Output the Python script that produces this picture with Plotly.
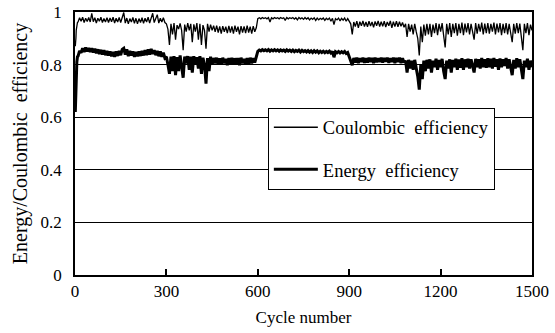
import plotly.graph_objects as go

cycles = [1, 2, 3, 4, 6, 8] + list(range(10, 1501, 5))

coulombic_eff = [
    0.87, 0.88, 0.90, 0.93, 0.95, 0.96,
    0.962, 0.978, 0.965, 0.98, 0.96, 0.976, 0.964, 0.979, 0.962, 0.995,
    0.963, 0.978, 0.958, 0.976, 0.965, 0.98, 0.96, 0.975, 0.962, 0.978,
    0.96, 0.977, 0.963, 0.98, 0.958, 0.976, 0.962, 0.979, 0.96, 0.976,
    0.998, 0.958, 0.977, 0.955, 0.975, 0.962, 0.979, 0.957, 0.976, 0.955,
    0.975, 0.96, 0.978, 0.957, 0.976, 0.962, 0.98, 0.958, 0.977, 0.995,
    0.96, 0.978, 0.99, 0.958, 0.976, 0.962, 0.978, 0.96, 0.955, 0.935,
    0.875, 0.955, 0.915, 0.958, 0.895, 0.95, 0.935, 0.957, 0.93, 0.855,
    0.952, 0.925, 0.958, 0.93, 0.955, 0.885, 0.953, 0.925, 0.958, 0.895,
    0.955, 0.875, 0.95, 0.93, 0.86, 0.955, 0.925, 0.952, 0.93, 0.948,
    0.925, 0.948, 0.922, 0.945, 0.918, 0.946, 0.925, 0.944, 0.92, 0.947,
    0.922, 0.945, 0.918, 0.948, 0.925, 0.944, 0.915, 0.946, 0.922, 0.945,
    0.92, 0.948, 0.922, 0.944, 0.918, 0.946, 0.925, 0.94, 0.975, 0.978,
    0.974, 0.979, 0.975, 0.978, 0.974, 0.979, 0.962, 0.978, 0.974, 0.979,
    0.975, 0.978, 0.974, 0.979, 0.975, 0.978, 0.968, 0.979, 0.974, 0.978,
    0.975, 0.979, 0.973, 0.978, 0.97, 0.979, 0.974, 0.978, 0.972, 0.979,
    0.973, 0.978, 0.97, 0.977, 0.972, 0.978, 0.968, 0.977, 0.97, 0.976,
    0.972, 0.977, 0.968, 0.976, 0.971, 0.977, 0.965, 0.976, 0.952, 0.975,
    0.97, 0.977, 0.966, 0.976, 0.969, 0.977, 0.965, 0.975, 0.962, 0.955,
    0.915, 0.962, 0.945, 0.965, 0.94, 0.963, 0.948, 0.966, 0.945, 0.962,
    0.944, 0.965, 0.947, 0.962, 0.942, 0.964, 0.948, 0.966, 0.945, 0.963,
    0.946, 0.965, 0.943, 0.962, 0.948, 0.966, 0.94, 0.963, 0.945, 0.965,
    0.944, 0.963, 0.946, 0.96, 0.942, 0.955, 0.905, 0.955, 0.925, 0.952,
    0.915, 0.955, 0.925, 0.90, 0.835, 0.945, 0.885, 0.952, 0.91, 0.955,
    0.915, 0.955, 0.905, 0.952, 0.92, 0.958, 0.912, 0.955, 0.925, 0.958,
    0.91, 0.865, 0.955, 0.915, 0.958, 0.905, 0.955, 0.92, 0.958, 0.91,
    0.955, 0.92, 0.96, 0.912, 0.956, 0.922, 0.958, 0.915, 0.955, 0.925,
    0.895, 0.958, 0.918, 0.955, 0.925, 0.96, 0.915, 0.956, 0.92, 0.958,
    0.918, 0.955, 0.925, 0.96, 0.915, 0.956, 0.922, 0.958, 0.912, 0.955,
    0.92, 0.958, 0.915, 0.955, 0.925, 0.885, 0.955, 0.918, 0.958, 0.92,
    0.956, 0.915, 0.855, 0.955, 0.92, 0.958, 0.912, 0.952, 0.93,
]

energy_eff = [
    0.62, 0.68, 0.74, 0.78, 0.81, 0.83,
    0.832, 0.852, 0.845, 0.862, 0.848, 0.865, 0.85, 0.863, 0.848, 0.862,
    0.846, 0.86, 0.843, 0.858, 0.84, 0.856, 0.838, 0.855, 0.836, 0.852,
    0.835, 0.85, 0.832, 0.848, 0.83, 0.85, 0.833, 0.852, 0.836, 0.858,
    0.862, 0.838, 0.858, 0.832, 0.852, 0.835, 0.85, 0.83, 0.848, 0.832,
    0.85, 0.833, 0.852, 0.835, 0.855, 0.836, 0.858, 0.838, 0.86, 0.84,
    0.855, 0.836, 0.852, 0.832, 0.85, 0.83, 0.845, 0.825, 0.83, 0.80,
    0.765, 0.83, 0.775, 0.832, 0.76, 0.828, 0.775, 0.835, 0.80, 0.75,
    0.83, 0.805, 0.832, 0.78, 0.83, 0.77, 0.832, 0.80, 0.828, 0.785,
    0.832, 0.765, 0.826, 0.80, 0.728, 0.825, 0.775, 0.83, 0.80, 0.825,
    0.805, 0.826, 0.802, 0.824, 0.80, 0.826, 0.805, 0.822, 0.798, 0.825,
    0.803, 0.826, 0.80, 0.824, 0.804, 0.825, 0.798, 0.826, 0.805, 0.822,
    0.80, 0.825, 0.803, 0.826, 0.805, 0.824, 0.808, 0.83, 0.85, 0.855,
    0.852, 0.857, 0.853, 0.856, 0.852, 0.857, 0.851, 0.856, 0.852, 0.857,
    0.852, 0.856, 0.851, 0.856, 0.852, 0.855, 0.85, 0.856, 0.851, 0.855,
    0.85, 0.855, 0.849, 0.854, 0.85, 0.855, 0.848, 0.854, 0.849, 0.853,
    0.848, 0.853, 0.847, 0.852, 0.846, 0.853, 0.847, 0.852, 0.845, 0.851,
    0.846, 0.851, 0.845, 0.85, 0.846, 0.851, 0.844, 0.85, 0.828, 0.849,
    0.845, 0.85, 0.844, 0.849, 0.845, 0.85, 0.842, 0.846, 0.83, 0.815,
    0.798, 0.825, 0.808, 0.826, 0.806, 0.824, 0.81, 0.826, 0.807, 0.824,
    0.808, 0.826, 0.81, 0.825, 0.806, 0.826, 0.809, 0.824, 0.81, 0.826,
    0.808, 0.825, 0.811, 0.826, 0.807, 0.824, 0.81, 0.826, 0.806, 0.825,
    0.81, 0.826, 0.806, 0.824, 0.808, 0.815, 0.77, 0.818, 0.785, 0.815,
    0.78, 0.818, 0.79, 0.755, 0.705, 0.80, 0.745, 0.815, 0.775, 0.818,
    0.785, 0.82, 0.77, 0.815, 0.79, 0.822, 0.78, 0.818, 0.79, 0.822,
    0.775, 0.745, 0.815, 0.785, 0.82, 0.77, 0.818, 0.79, 0.822, 0.78,
    0.82, 0.788, 0.824, 0.78, 0.82, 0.79, 0.822, 0.785, 0.82, 0.79,
    0.77, 0.822, 0.79, 0.82, 0.785, 0.825, 0.79, 0.82, 0.788, 0.824,
    0.79, 0.822, 0.785, 0.825, 0.792, 0.82, 0.78, 0.823, 0.79, 0.82,
    0.795, 0.825, 0.785, 0.82, 0.79, 0.76, 0.818, 0.785, 0.824, 0.79,
    0.82, 0.785, 0.745, 0.815, 0.79, 0.822, 0.78, 0.815, 0.79,
]

x_ticks = [0, 300, 600, 900, 1200, 1500]
y_ticks = [0, 0.2, 0.4, 0.6, 0.8, 1]
y_ticktext = ["0", "0.2", "0.4", "0.6", "0.8", "1"]

FONT = "Liberation Serif, serif"

fig = go.Figure()
fig.add_trace(go.Scatter(
    x=cycles, y=coulombic_eff, mode="lines",
    name="Coulombic\u00a0\u00a0efficiency", legendgroup="ce",
    line=dict(color="black", width=1.3),
))
fig.add_trace(go.Scatter(
    x=cycles, y=energy_eff, mode="lines",
    name="Energy\u00a0\u00a0efficiency", legendgroup="ee",
    line=dict(color="black", width=3),
))

fig.update_layout(
    width=555, height=333,
    margin=dict(l=75, r=23, t=12, b=58),
    paper_bgcolor="white", plot_bgcolor="white",
    font=dict(family=FONT, size=17, color="black"),
    showlegend=True,
    legend=dict(
        x=0.422, y=0.636, xanchor="left", yanchor="top",
        bgcolor="white", bordercolor="black", borderwidth=1,
        font=dict(family=FONT, size=18.5, color="black"),
        tracegroupgap=15,
        itemwidth=44,
    ),
    xaxis=dict(
        range=[0, 1500], tickmode="array", tickvals=x_ticks,
        ticks="inside", ticklen=6, tickwidth=1.5, tickcolor="black",
        showline=True, linecolor="black", linewidth=1.5, mirror=True,
        showgrid=False, zeroline=False, automargin=False,
        tickfont=dict(family=FONT, size=17),
        title=dict(text="Cycle number", font=dict(family=FONT, size=17), standoff=11),
    ),
    yaxis=dict(
        range=[0, 1], tickmode="array", tickvals=y_ticks, ticktext=y_ticktext,
        ticks="", ticklabelstandoff=8,
        showline=True, linecolor="black", linewidth=1.5, mirror=True,
        showgrid=True, gridcolor="black", gridwidth=1, zeroline=False,
        automargin=False,
        tickfont=dict(family=FONT, size=17),
        title=dict(text="Energy/Coulombic\u00a0\u00a0efficiency", font=dict(family=FONT, size=20), standoff=8),
    ),
)

fig.write_html("out.html")
